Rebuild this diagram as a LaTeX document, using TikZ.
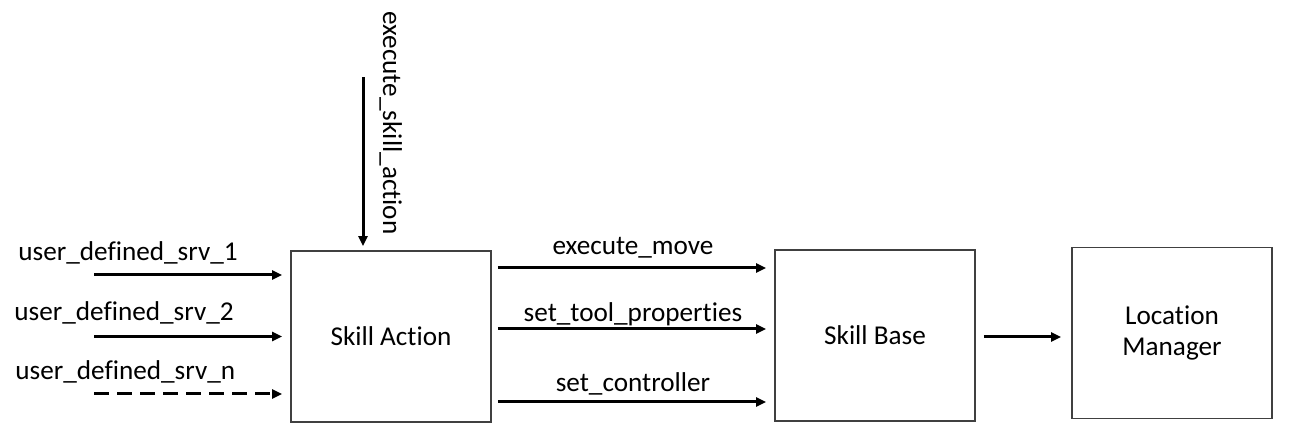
\documentclass[tikz,border=0pt]{standalone}
\usepackage{fontspec}
\setmainfont[Ligatures={NoCommon,NoContextual}]{Carlito}
\usetikzlibrary{arrows.meta, positioning}

\begin{document}
\begin{tikzpicture}[x=0.5pt, y=-0.5pt,
 font=\fontsize{13.6}{15.5}\selectfont,
 block/.style={rectangle, draw=black!75, line width=0.9pt, minimum width=100pt, minimum height=85.5pt, align=center, inner sep=0pt},
 flow/.style={line width=1.5pt, -{Triangle[length=5pt,width=4.5pt]}},
 fixedin/.style={solid},
 optin/.style={dash pattern=on 7.5pt off 4pt},
 lbl/.style={inner sep=0pt}]

  \useasboundingbox (0,0) rectangle (1307,437);

  \node[block] (sa) at (391,336.5) {Skill Action};
  \node[block] (sb) at (875,335.5) {Skill Base};
  \node[block] (lm) at (1172,333) {Location\\Manager};

  \foreach \n/\dy/\x/\yb/\s in {1/30.75/18/261/fixedin, 2/0/14/321/fixedin, n/-28.75/15/380/optin} {
    \coordinate (in\n) at ([xshift=-98pt, yshift=\dy pt]sa.west);
    \draw[flow, \s, shorten >=4pt] (in\n) -- (in\n -| sa.west);
    \node[lbl, anchor=base west] (t\n) at (\x,\yb) {user\_defined\_srv\_\n};
  }

  \foreach \dy/\txt/\gap in {34.25/execute\_move/6.5, 3.75/set\_tool\_properties/3.5, -32.75/set\_controller/5} {
    \draw[flow, shorten <=3pt, shorten >=4pt] ([yshift=\dy pt]sa.east) -- ([yshift=\dy pt]sa.east -| sb.west)
      node[midway, anchor=base, yshift=\gap pt] {\txt};
  }

  \coordinate (top) at ([xshift=-14pt, yshift=86.5pt]sa.north);
  \draw[flow, shorten >=2pt] (top) -- (top |- sa.north);
  \node[lbl, rotate=-90, anchor=base] (ex) at (383,123) {execute\_skill\_action};

  \draw[flow, shorten <=4pt, shorten >=5pt] ([yshift=-0.75pt]sb.east) -- ([yshift=-0.75pt]sb.east -| lm.west);
\end{tikzpicture}
\end{document}
